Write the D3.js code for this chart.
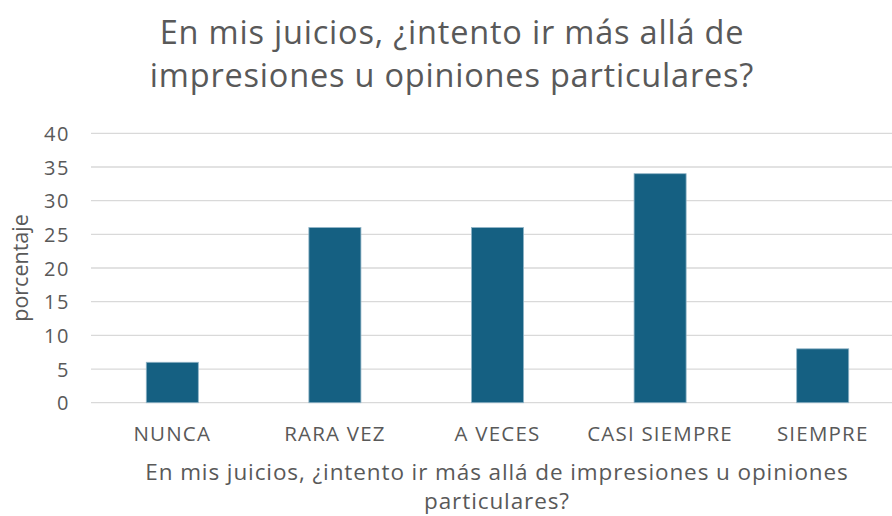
<!DOCTYPE html>
<html>
<head>
<meta charset="utf-8">
<script src="https://cdn.jsdelivr.net/npm/d3@7"></script>
<style>
  body { margin: 0; background: #fff; }
  text { font-family: "Open Sans", sans-serif; fill: #595959; }
</style>
</head>
<body>
<svg width="892" height="516"></svg>
<script>
// chart data
const categories = ["NUNCA", "RARA VEZ", "A VECES", "CASI SIEMPRE", "SIEMPRE"];
const values = [6, 26, 26, 34, 8];
const yTicks = [0, 5, 10, 15, 20, 25, 30, 35, 40];
const titleLines = ["En mis juicios, ¿intento ir más allá de", "impresiones u opiniones particulares?"];
const xTitleLines = ["En mis juicios, ¿intento ir más allá de impresiones u opiniones", "particulares?"];
const yTitle = "porcentaje";

const svg = d3.select("svg");

// plot area (window.top is taken, so use other names)
const plotLeft = 91, plotRight = 904, plotTop = 133.3, plotBottom = 402.7;

const x = d3.scaleBand()
  .domain(categories)
  .range([plotLeft, plotRight])
  .paddingInner(0.68)
  .paddingOuter(0.34);

const y = d3.scaleLinear()
  .domain([0, 40])
  .range([plotBottom, plotTop]);

// gridlines
svg.append("g")
  .selectAll("line")
  .data(yTicks)
  .enter()
  .append("line")
  .attr("x1", plotLeft)
  .attr("x2", 892)
  .attr("y1", d => y(d))
  .attr("y2", d => y(d))
  .attr("stroke", "#d9d9d9")
  .attr("stroke-width", 1.3);

// y axis labels
const yAxis = d3.axisLeft(y).tickValues(yTicks).tickSize(0).tickPadding(0);
const gy = svg.append("g")
  .attr("transform", `translate(70,0)`)
  .call(yAxis);
gy.select(".domain").remove();
gy.selectAll("text")
  .attr("font-size", 20)
  .attr("letter-spacing", 1.6)
  .attr("font-family", "'Open Sans', sans-serif")
  .attr("fill", "#595959")
  .attr("dy", "0.36em");

// bars
svg.selectAll("rect.bar")
  .data(values)
  .enter()
  .append("rect")
  .attr("class", "bar")
  .attr("x", (d, i) => x(categories[i]))
  .attr("y", d => y(d))
  .attr("width", x.bandwidth())
  .attr("height", d => plotBottom - y(d))
  .attr("fill", "#156082")
  .attr("stroke", "#8fb3c6")
  .attr("stroke-width", 0.8);

// x axis labels
const xAxis = d3.axisBottom(x).tickSize(0).tickPadding(0);
const gx = svg.append("g")
  .attr("transform", `translate(0,${plotBottom})`)
  .call(xAxis);
gx.select(".domain").remove();
gx.selectAll("text")
  .attr("font-size", 20.5)
  .attr("letter-spacing", 1.2)
  .attr("font-family", "'Open Sans', sans-serif")
  .attr("fill", "#595959")
  .attr("dy", 0)
  .attr("y", 38.5);

// title
svg.append("text")
  .attr("text-anchor", "middle")
  .attr("font-size", 32.5)
  .attr("letter-spacing", 0.8)
  .selectAll("tspan")
  .data(titleLines)
  .enter()
  .append("tspan")
  .attr("x", 452)
  .attr("y", (d, i) => 43.5 + i * 43.5)
  .text(d => d);

// x axis title
svg.append("text")
  .attr("text-anchor", "middle")
  .attr("font-size", 22.5)
  .attr("letter-spacing", 0.9)
  .selectAll("tspan")
  .data(xTitleLines)
  .enter()
  .append("tspan")
  .attr("x", 497)
  .attr("y", (d, i) => 480 + i * 29)
  .text(d => d);

// y axis title
svg.append("text")
  .attr("text-anchor", "middle")
  .attr("font-size", 21.5)
  .attr("transform", "translate(28,268) rotate(-90)")
  .text(yTitle);
</script>
</body>
</html>
